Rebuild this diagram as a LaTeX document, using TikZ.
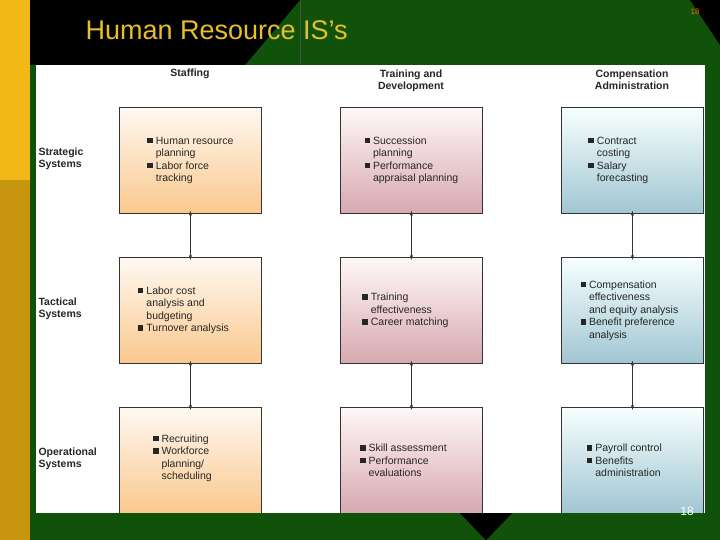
\documentclass[tikz,border=0pt]{standalone}
\usepackage{fontspec}
\setmainfont{Liberation Sans}
\usetikzlibrary{arrows.meta,shadows}
\definecolor{bggreen}{HTML}{10520A}
\definecolor{ylw}{HTML}{F2B817}
\definecolor{ylwd}{HTML}{C8960E}
\definecolor{ttl}{HTML}{E8BE2A}
\begin{document}
\begin{tikzpicture}[x=1pt,y=-1pt,
  box/.style={draw=black!80,line width=0.8pt,minimum width=142pt,minimum height=106pt,anchor=north west,inner sep=0pt,drop shadow={shadow xshift=1pt,shadow yshift=-1pt,opacity=0.5}},
  ob/.style={box,top color=orange!5,bottom color={rgb,255:red,250;green,200;blue,140}},
  pb/.style={box,top color=red!3,bottom color={rgb,255:red,215;green,168;blue,176}},
  bb/.style={box,top color=cyan!3,bottom color={rgb,255:red,160;green,198;blue,210}},
  txt/.style={font=\fontsize{10.5}{12.5}\selectfont,text=black!85,align=left,anchor=center},
  hd/.style={font=\bfseries\fontsize{10.5}{12.5}\selectfont,text=black!85,align=center},
  rl/.style={font=\bfseries\fontsize{10.5}{12.5}\selectfont,text=black!85,align=left,anchor=west},
  arr/.style={{Stealth[length=5pt,width=3pt]}-{Stealth[length=5pt,width=3pt]},black!80,line width=0.5pt}]
\useasboundingbox (0,0) rectangle (720,540);
\fill[bggreen] (0,0) rectangle (720,540);
\fill[black] (30,0) -- (300,0) -- (245,65) -- (30,65) -- cycle;
\draw[black!70,line width=0.6pt] (300,0) -- (300,65);
\fill[black] (690,0) -- (720,0) -- (720,45) -- cycle;
\fill[black] (460,513) -- (512,513) -- (486,540) -- cycle;
\fill[ylw] (0,0) rectangle (30,180);
\fill[ylwd] (0,180) rectangle (30,540);
\node[text=ttl,font=\fontsize{27}{30}\selectfont,anchor=west] (title) at (82,30) {Human Resource IS’s};
\node[text=orange!80!red,font=\fontsize{8}{9}\selectfont] (pg) at (695,12) {18};
\fill[white] (36,65) rectangle (705,513);
\node[hd] (h1) at (190,74) {Staffing};
\node[hd,anchor=north] (h2) at (411,66) {Training and\\Development};
\node[hd,anchor=north] (h3) at (632,66) {Compensation\\Administration};
\node[rl] (r1) at (35,159) {Strategic\\Systems};
\node[rl] (r2) at (35,309) {Tactical\\Systems};
\node[rl] (r3) at (35,459) {Operational\\Systems};
\def\sq{\raisebox{1pt}{\rule{5.5pt}{5.5pt}}\hspace{3pt}}
\def\ind{\hspace{8.5pt}}
\node[ob] (a1) at (119,107) {}; \node[txt] at (a1.center) {\sq Human resource\\\ind planning\\\sq Labor force\\\ind tracking};
\node[pb] (b1) at (340,107) {}; \node[txt] at (b1.center) {\sq Succession\\\ind planning\\\sq Performance\\\ind appraisal planning};
\node[bb] (c1) at (561,107) {}; \node[txt] at ([xshift=-14pt]c1.center) {\sq Contract\\\ind costing\\\sq Salary\\\ind forecasting};
\node[ob] (a2) at (119,257) {}; \node[txt] at ([xshift=-7pt]a2.center) {\sq Labor cost\\\ind analysis and\\\ind budgeting\\\sq Turnover analysis};
\node[pb] (b2) at (340,257) {}; \node[txt] at ([xshift=-6pt]b2.center) {\sq Training\\\ind effectiveness\\\sq Career matching};
\node[bb] (c2) at (561,257) {}; \node[txt] at ([xshift=-3pt]c2.center) {\sq Compensation\\\ind effectiveness\\\ind and equity analysis\\\sq Benefit preference\\\ind analysis};
\node[ob] (a3) at (119,407) {}; \node[txt] at ([xshift=-8pt,yshift=2pt]a3.center) {\sq Recruiting\\\sq Workforce\\\ind planning/\\\ind scheduling};
\node[pb] (b3) at (340,407) {}; \node[txt] at ([xshift=-8pt]b3.center) {\sq Skill assessment\\\sq Performance\\\ind evaluations};
\node[bb] (c3) at (561,407) {}; \node[txt] at ([xshift=-8pt]c3.center) {\sq Payroll control\\\sq Benefits\\\ind administration};
\fill[white] (705,100) rectangle (720,520);
\fill[bggreen] (705,100) rectangle (720,540);
\fill[bggreen] (36,513) rectangle (460,540);
\fill[bggreen] (512,513) rectangle (720,540);
\fill[black] (460,513) -- (512,513) -- (486,540) -- cycle;
\foreach \u/\v in {a1/a2,a2/a3,b1/b2,b2/b3,c1/c2,c2/c3}
  \draw[arr] ([yshift=3pt]\u.south) -- ([yshift=-3pt]\v.north);
\node[text=white,font=\fontsize{12}{14}\selectfont] (pn) at (687,511) {18};
\end{tikzpicture}
\end{document}
